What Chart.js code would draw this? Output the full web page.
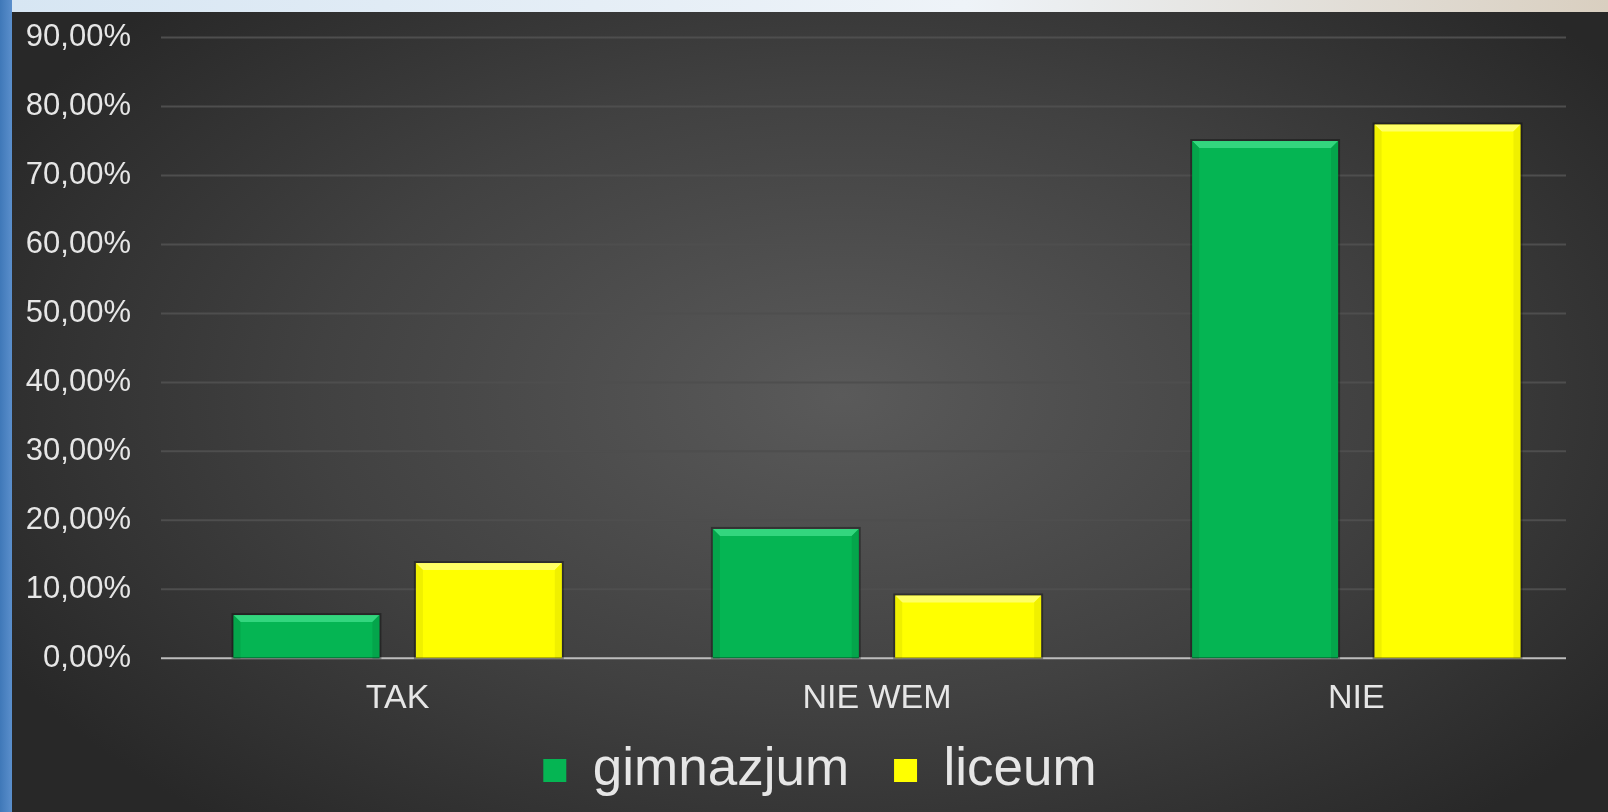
<!DOCTYPE html>
<html>
<head>
<meta charset="utf-8">
<script src="https://cdn.jsdelivr.net/npm/chart.js@4"></script>
<style>
  html, body { margin:0; padding:0; width:1608px; height:812px; overflow:hidden; }
  body { background: linear-gradient(90deg, #3f78b8 0px, #5b8fcc 12px, #d7e6f3 12px, #eef3f8 60%, #d9cfc0 100%); position:relative; }
  #panel { position:absolute; left:12px; top:12px; width:1596px; height:800px;
    background: radial-gradient(ellipse 60% 70% at 52% 48%, #5a5a5a 0%, #414141 55%, #282828 100%); }
  #chart { position:absolute; left:0; top:0; display:block; }
</style>
</head>
<body>
<div id="panel"></div>
<canvas id="chart" width="1608" height="812"></canvas>
<script>
const categories = ['TAK', 'NIE WEM', 'NIE']
const gimnazjum = [6.25, 18.75, 75.0]
const liceum = [13.8, 9.1, 77.4]
const yTicks = [0, 10, 20, 30, 40, 50, 60, 70, 80, 90]

const fmt = v => v.toFixed(2).replace('.', ',') + '%'

// gridlines + base line, shorter than the chart area like in the original
const grid = {
  id: 'shortGrid',
  beforeDatasetsDraw(chart){
    const ctx = chart.ctx, y = chart.scales.y
    ctx.save()
    yTicks.forEach(v=>{
      const py = y.getPixelForValue(v)
      ctx.strokeStyle = v === 0 ? '#bdbdbd' : '#4e4e4e'
      ctx.lineWidth = 2
      ctx.beginPath(); ctx.moveTo(161, py); ctx.lineTo(1566, py); ctx.stroke()
    })
    ctx.restore()
  }
}

// nudge the legend a bit right and up (it sits off-centre in the original)
const legendNudge = {
  id: 'legendNudge',
  afterLayout(chart){
    const lg = chart.legend; if(!lg) return
    lg.left += 22; lg.right += 22
    lg.top -= 32; lg.bottom -= 32
  }
}

// bevel look: lighter top edge, darker sides, drawn on top of each bar
const bevel = {
  id: 'bevel',
  afterDatasetsDraw(chart){
    const ctx = chart.ctx
    chart.data.datasets.forEach((ds, i)=>{
      chart.getDatasetMeta(i).data.forEach(bar=>{
        const l = bar.x - bar.width/2, r = bar.x + bar.width/2, t = bar.y, b = bar.base, e = 7
        ctx.save()
        ctx.fillStyle = ds.topColor
        ctx.beginPath(); ctx.moveTo(l,t); ctx.lineTo(r,t); ctx.lineTo(r-e,t+e); ctx.lineTo(l+e,t+e); ctx.closePath(); ctx.fill()
        ctx.fillStyle = ds.sideColor
        ctx.beginPath(); ctx.moveTo(l,t); ctx.lineTo(l+e,t+e); ctx.lineTo(l+e,b); ctx.lineTo(l,b); ctx.closePath(); ctx.fill()
        ctx.beginPath(); ctx.moveTo(r,t); ctx.lineTo(r-e,t+e); ctx.lineTo(r-e,b); ctx.lineTo(r,b); ctx.closePath(); ctx.fill()
        ctx.strokeStyle = 'rgba(0,0,0,0.35)'; ctx.lineWidth = 2
        ctx.strokeRect(l-1, t-1, r-l+2, b-t+1)
        ctx.restore()
      })
    })
  }
}

new Chart(document.getElementById('chart'), {
  type: 'bar',
  data: {
    labels: categories,
    datasets: [
      {label:'gimnazjum', data: gimnazjum, backgroundColor:'#05b553', topColor:'#33d67e', sideColor:'#04a54b', borderWidth:0},
      {label:'liceum', data: liceum, backgroundColor:'#ffff00', topColor:'#ffff66', sideColor:'#f0f000', borderWidth:0}
    ]
  },
  options: {
    responsive:false, animation:false,
    categoryPercentage:0.761, barPercentage:0.8,
    layout:{padding:{left:0, right:12, top:10, bottom:-27}},
    plugins:{
      tooltip:{enabled:false},
      legend:{
        position:'bottom',
        labels:{color:'#e6e6e6', font:{family:'Arial, Liberation Sans', size:53}, boxWidth:23, boxHeight:23, padding:45}
      }
    },
    scales:{
      x:{
        grid:{display:false},
        border:{display:false},
        ticks:{color:'#e6e6e6', font:{family:'Arial, Liberation Sans', size:34}, padding:12}
      },
      y:{
        min:0, max:90,
        afterBuildTicks: s => { s.ticks = yTicks.map(v=>({value:v})) },
        afterFit: s => { s.width = 158 },
        grid:{display:false},
        border:{display:false},
        ticks:{color:'#e6e6e6', font:{family:'Arial, Liberation Sans', size:31}, padding:19, callback: v => fmt(v)}
      }
    }
  },
  plugins:[grid, legendNudge, bevel]
})
</script>
</body>
</html>
